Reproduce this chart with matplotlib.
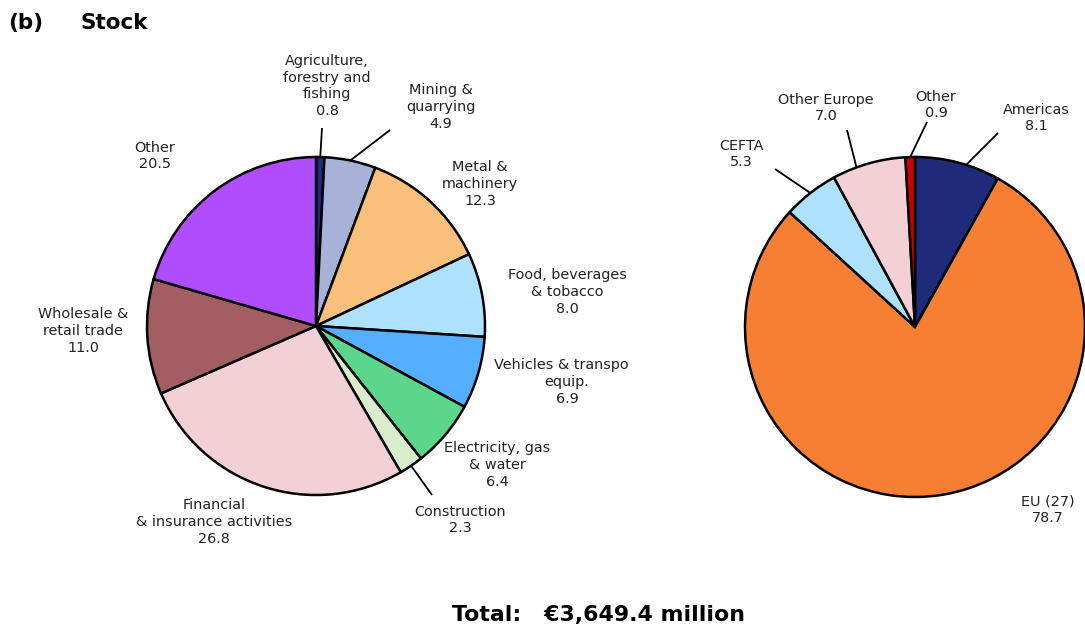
import numpy as np
import matplotlib
matplotlib.use("Agg")
import matplotlib.pyplot as plt

plt.rcParams['font.family'] = ['DejaVu Sans']

# sector breakdown (% of stock)
sectors = ["Agriculture,\nforestry and\nfishing", "Mining &\nquarrying", "Metal &\nmachinery",
           "Food, beverages\n& tobacco", "Vehicles & transport\nequip.", "Electricity, gas\n& water",
           "Construction", "Financial\n& insurance activities", "Wholesale &\nretail trade", "Other"]
sector_vals = [0.8, 4.9, 12.3, 8.0, 6.9, 6.4, 2.3, 26.8, 11.0, 20.5]

# origin breakdown (% of stock)
regions = ["Americas", "EU (27)", "CEFTA", "Other Europe", "Other"]
region_vals = [8.1, 78.7, 5.3, 7.0, 0.9]

total_text = "Total:   €3,649.4 million"

sector_cols = ["#1f2a7a", "#a8b2d8", "#f9c07c", "#ade1fc", "#55aeff",
               "#5cd68a", "#d8edcc", "#f2d0d5", "#a35e64", "#b04dff"]
region_cols = ["#1f2a7a", "#f67f34", "#ade1fc", "#f2d0d5", "#cc0000"]

W, H = 1085, 628
SPLIT = 628

# label centres (pixels, y down); leaders as (position within wedge, outer end)
sector_txt = [(327, 86), (441, 107), (480, 184), (567, 292), (567, 382),
              (497, 465), (460, 520), (214, 522), (83, 331), (155, 156)]
sector_lead = [(0.5, (322, 128)), (0.5, (390, 130)), None, None, None, None,
               (0.5, (432, 495)), None, None, None]
region_txt = [(1036, 118), (1048, 510), (741, 154), (826, 108), (936, 105)]
region_lead = [(0.6, (998, 133)), None, (0.5, (775, 169)), (0.33, (847, 130)),
               (0.5, (927, 122))]


def draw_pie(ax, vals, cols, names, txt, lead, cx, cy, r):
    ax.pie(vals, colors=cols, startangle=90, counterclock=False,
           center=(cx, H - cy), radius=r,
           wedgeprops=dict(edgecolor="black", linewidth=1.8), frame=True)
    tot = sum(vals)
    cum = np.cumsum([0] + list(vals))
    for i, (name, v) in enumerate(zip(names, vals)):
        if lead[i] is not None:
            frac, (ox, oy) = lead[i]
            ang = np.deg2rad(90 - (cum[i] + v * frac) / tot * 360)
            x0 = cx + r * np.cos(ang)
            y0 = H - cy + r * np.sin(ang)
            ax.plot([x0, ox], [y0, H - oy], color="black", lw=1.3,
                    solid_capstyle="butt")
        tx, ty = txt[i]
        ax.text(tx, H - ty, "%s\n%.1f" % (name, v), ha="center", va="center",
                fontsize=10.4, linespacing=1.25, color="#222222", clip_on=True)


fig = plt.figure(figsize=(W / 100, H / 100), dpi=100)

ax1 = fig.add_axes([0, 0, SPLIT / W, 1])
draw_pie(ax1, sector_vals, sector_cols, sectors, sector_txt, sector_lead, 316, 326, 169)
ax1.set_xlim(0, SPLIT)
ax1.set_ylim(0, H)
ax1.set_aspect("equal")
ax1.axis("off")

ax2 = fig.add_axes([SPLIT / W, 0, (W - SPLIT) / W, 1])
draw_pie(ax2, region_vals, region_cols, regions, region_txt, region_lead, 915, 327, 170)
ax2.set_xlim(SPLIT, W)
ax2.set_ylim(0, H)
ax2.set_aspect("equal")
ax2.axis("off")

fig.text(8 / W, 1 - 23 / H, "(b)", fontsize=15.5, fontweight="bold",
         ha="left", va="center")
fig.text(80 / W, 1 - 23 / H, "Stock", fontsize=15.5, fontweight="bold",
         ha="left", va="center")
fig.text(598 / W, 1 - 615 / H, total_text, fontsize=15.8, fontweight="bold",
         ha="center", va="center")

fig.savefig("out.png", dpi=100)
